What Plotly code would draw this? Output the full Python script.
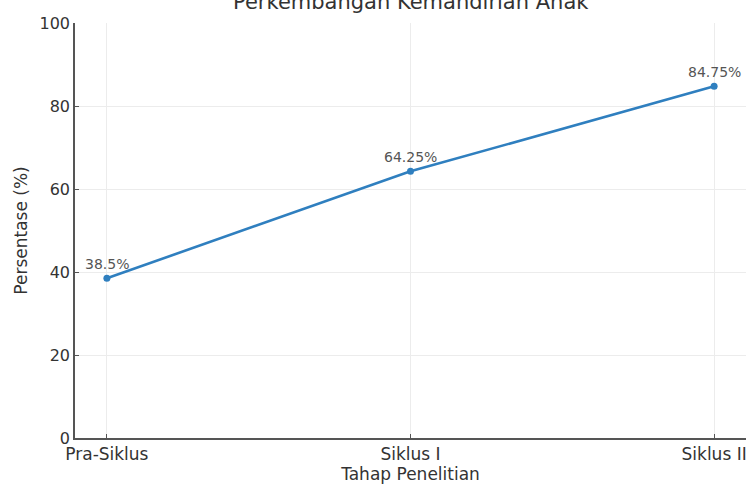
import plotly.graph_objects as go

# Data
stages = ["Pra-Siklus", "Siklus I", "Siklus II"]
percent = [38.5, 64.25, 84.75]
value_labels = ["38.5%", "64.25%", "84.75%"]

title_text = "Perkembangan Kemandirian Anak"
x_title = "Tahap Penelitian"
y_title = "Persentase (%)"
y_ticks = [0, 20, 40, 60, 80, 100]

FONT = "DejaVu Sans"
LINE_BLUE = "#2f7fbf"

fig = go.Figure()
fig.add_trace(go.Scatter(
    x=list(range(len(stages))),
    y=percent,
    mode="lines+markers",
    line=dict(color=LINE_BLUE, width=2.6),
    marker=dict(color=LINE_BLUE, size=7),
    hoverinfo="skip",
    showlegend=False,
))

# Value labels above each point
for i, (v, lab) in enumerate(zip(percent, value_labels)):
    fig.add_annotation(
        x=i, y=v, text=lab, showarrow=False,
        yshift=14, font=dict(family=FONT, size=14, color="#555555"),
        xanchor="center", yanchor="middle",
    )

# Title (sits at the very top edge of the page)
fig.add_annotation(
    x=0.5, y=1.016, xref="paper", yref="paper",
    text=title_text, showarrow=False,
    xanchor="center", yanchor="bottom",
    font=dict(family=FONT, size=21, color="#333333"),
)

fig.update_layout(
    width=747, height=484,
    margin=dict(l=75, r=1, t=23, b=46),
    paper_bgcolor="white",
    plot_bgcolor="white",
    font=dict(family=FONT, size=16, color="#333333"),
)

fig.update_xaxes(
    range=[-0.105, 2.105],
    tickmode="array",
    tickvals=list(range(len(stages))),
    ticktext=stages,
    showgrid=True, gridcolor="#ececec", gridwidth=1,
    showline=True, linecolor="#555555", linewidth=1.5,
    ticks="inside", ticklen=4, tickcolor="#555555",
    zeroline=False,
    title=dict(text=x_title, standoff=3, font=dict(size=17)),
    tickfont=dict(size=17),
)

fig.update_yaxes(
    range=[0, 100],
    tickmode="array",
    tickvals=y_ticks,
    showgrid=True, gridcolor="#ececec", gridwidth=1,
    showline=True, linecolor="#555555", linewidth=1.5,
    ticks="inside", ticklen=4, tickcolor="#555555",
    zeroline=False,
    title=dict(text=y_title, standoff=8, font=dict(size=17)),
    tickfont=dict(size=16),
)

fig.write_html("out.html")
